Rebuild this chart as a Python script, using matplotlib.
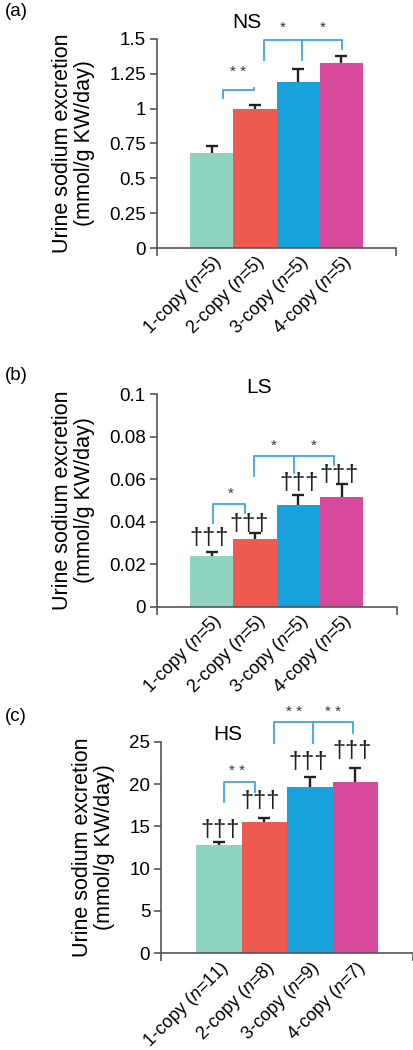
import matplotlib.pyplot as plt
import numpy as np

plt.rcParams['font.family'] = ['Liberation Sans', 'DejaVu Sans']
plt.rcParams['mathtext.fontset'] = 'custom'
plt.rcParams['mathtext.rm'] = 'Liberation Sans'
plt.rcParams['mathtext.it'] = 'Liberation Sans:italic'

colors = ['#8dd3c0', '#ef5a50', '#17a2dc', '#d74a9b']
bracket_color = '#3fa6dd'
axis_color = '#555555'

ns_labels = [r'1-copy ($n$=5)', r'2-copy ($n$=5)', r'3-copy ($n$=5)', r'4-copy ($n$=5)']
ls_labels = [r'1-copy ($n$=5)', r'2-copy ($n$=5)', r'3-copy ($n$=5)', r'4-copy ($n$=5)']
hs_labels = [r'1-copy ($n$=11)', r'2-copy ($n$=8)', r'3-copy ($n$=9)', r'4-copy ($n$=7)']

ns_mean = [0.68, 0.995, 1.19, 1.33]
ns_err = [0.055, 0.03, 0.095, 0.05]

ls_mean = [0.0240, 0.0317, 0.0480, 0.0516]
ls_err = [0.0019, 0.0030, 0.0046, 0.0060]

hs_mean = [12.8, 15.55, 19.65, 20.25]
hs_err = [0.4, 0.45, 1.15, 1.6]

# dagger heights (data units)
ls_dagger = [0.0323, 0.0390, 0.0580, 0.0620]
hs_dagger = [14.6, 18.0, 22.6, 23.9]

ylabel = 'Urine sodium excretion\n(mmol/g KW/day)'


def bracket2(ax, x1, x2, ytop, y1, y2, ystar, txt, xstar):
    ax.plot([x1, x1, x2, x2], [y1, ytop, ytop, y2], color=bracket_color,
            lw=1.3, clip_on=False)
    ax.text(xstar, ystar, txt, ha='center', va='center', fontsize=11,
            color='#333333')


def bracket3(ax, xl, xm, xr, ytop, yl, ym, yr, ystar, txt):
    ax.plot([xl, xl, xr, xr], [yl, ytop, ytop, yr], color=bracket_color,
            lw=1.3, clip_on=False)
    ax.plot([xm, xm], [ytop, ym], color=bracket_color, lw=1.3, clip_on=False)
    ax.text((xl + xm) / 2, ystar, txt, ha='center', va='center', fontsize=11,
            color='#333333', clip_on=False)
    ax.text((xm + xr) / 2, ystar, txt, ha='center', va='center', fontsize=11,
            color='#333333', clip_on=False)


def daggers(ax, xs, ys):
    for xx, yy in zip(xs, ys):
        ax.text(xx, yy, '\u2020\u2020\u2020', ha='center', va='center',
                fontsize=17, color='#222222',
                family=['Liberation Sans Narrow', 'Liberation Sans'])


def panel(rect, means, errs, labels, ymax, yticks, yticklabels, title,
          title_xy, letter, letter_y):
    ax = fig.add_axes(rect)
    x = np.arange(len(means))
    top = np.array(means) + np.array(errs)
    ax.bar(x, means, width=1.0, color=colors, edgecolor='none')
    ax.vlines(x, means, top, color='#222222', lw=1.7)
    ax.plot(x, top, ls='none', marker='_', ms=8, mew=1.7, color='#222222')
    ax.set_xlim(-1.27, 4.27)
    ax.set_ylim(0, ymax)
    ax.set_yticks(yticks)
    ax.set_yticklabels(yticklabels, fontsize=13.5)
    ax.set_xticks(x)
    ax.set_xticklabels(labels, rotation=45, ha='right', rotation_mode='anchor',
                       fontsize=13)
    ax.tick_params(axis='x', length=0, pad=3)
    ax.set_xticks([-1.27, 4.27], minor=True)
    ax.tick_params(axis='x', which='minor', length=6, color=axis_color, width=1.2)
    ax.tick_params(axis='y', length=5, color=axis_color, width=1.2, pad=3)
    for s in ['top', 'right']:
        ax.spines[s].set_visible(False)
    for s in ['left', 'bottom']:
        ax.spines[s].set_color(axis_color)
        ax.spines[s].set_linewidth(1.2)
    ax.set_ylabel(ylabel, fontsize=15.5, linespacing=1.1, labelpad=10)
    fig.text(title_xy[0], title_xy[1], title, fontsize=15, ha='center',
             va='center')
    fig.text(0.012, letter_y, letter, fontsize=13.5, va='center')
    return ax


fig = plt.figure(figsize=(4.14, 10.5), dpi=100)

# (a) NS
ax = panel([0.379, 0.7638, 0.578, 0.1991], ns_mean, ns_err, ns_labels, 1.5,
           [0, 0.25, 0.5, 0.75, 1, 1.25, 1.5],
           ['0', '0.25', '0.5', '0.75', '1', '1.25', '1.5'],
           'NS', (246.7 / 414, 1 - 22.7 / 1050), '(a)', 1 - 12 / 1050)
bracket2(ax, 0.26, 0.98, 1.135, 1.075, 1.145, 1.265, '* *', 0.60)
bracket3(ax, 1.2, 2.1, 3.02, 1.493, 1.35, 1.35, 1.43, 1.58, '*')

# (b) LS
ax = panel([0.379, 0.4222, 0.579, 0.2023], ls_mean, ls_err, ls_labels, 0.1,
           [0, 0.02, 0.04, 0.06, 0.08, 0.1],
           ['0', '0.02', '0.04', '0.06', '0.08', '0.1'],
           'LS', (259 / 414, 1 - 387.7 / 1050), '(b)', 1 - 375 / 1050)
daggers(ax, [-0.06, 0.87, 2.01, 2.93], ls_dagger)
bracket2(ax, 0.03, 0.77, 0.0482, 0.0394, 0.044, 0.053, '*', 0.43)
bracket3(ax, 0.98, 1.9, 2.82, 0.0711, 0.0615, 0.0628, 0.0667, 0.0758, '*')

# (c) HS
ax = panel([0.3897, 0.0921, 0.6079, 0.2015], hs_mean, hs_err, hs_labels, 25,
           [0, 5, 10, 15, 20, 25],
           ['0', '5', '10', '15', '20', '25'],
           'HS', (227.7 / 414, 1 - 735 / 1050), '(c)', 1 - 716.7 / 1050)
daggers(ax, [0.02, 0.91, 1.97, 2.94], hs_dagger)
bracket2(ax, 0.11, 0.79, 20.26, 17.83, 19.08, 21.5, '* *', 0.40)
bracket3(ax, 1.21, 2.07, 2.94, 27.28, 24.87, 24.8, 26.05, 28.5, '* *')

fig.savefig('out.png', dpi=100)
